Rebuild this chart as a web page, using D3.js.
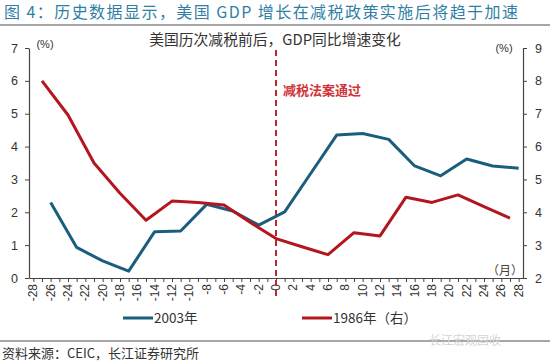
<!DOCTYPE html>
<html>
<head>
<meta charset="utf-8">
<script src="https://cdn.jsdelivr.net/npm/d3@7"></script>
<style>
  body { margin: 0; background: #fff; }
  svg { display: block; }
  text { font-family: "Liberation Sans", "Noto Sans CJK SC", sans-serif; }
  .cjk { font-family: "Noto Sans CJK SC", "Liberation Sans", sans-serif; }
</style>
</head>
<body>
<svg id="chart" width="550" height="363"></svg>
<script>
// quarterly GDP yoy, months relative to tax cut
var months2003 = [-26, -23, -20, -17, -14, -11, -8, -5, -2, 1, 4, 7, 10, 13, 16, 19, 22, 25, 28]
var gdp2003 = [2.3, 0.93, 0.52, 0.21, 1.41, 1.43, 2.24, 2.04, 1.61, 2.01, 3.18, 4.35, 4.4, 4.22, 3.41, 3.11, 3.62, 3.41, 3.34]
var months1986 = [-27, -24, -21, -18, -15, -12, -9, -6, -3, 0, 3, 6, 9, 12, 15, 18, 21, 24, 27]
var gdp1986 = [8.0, 6.96, 5.5, 4.58, 3.76, 4.34, 4.3, 4.22, 3.7, 3.2, 2.95, 2.71, 3.38, 3.28, 4.46, 4.3, 4.53, 4.17, 3.82]
var xTicks = d3.range(-28, 29, 2)
var leftTicks = [0, 1, 2, 3, 4, 5, 6, 7]
var rightTicks = [2, 3, 4, 5, 6, 7, 8, 9]

var blue = '#1b5d7e'
var red = '#b3161f'

var svg = d3.select('#chart')

var x = d3.scaleLinear().domain([-28.5, 28.5]).range([29, 523])
var yL = d3.scaleLinear().domain([0, 7]).range([278, 48])
var yR = d3.scaleLinear().domain([2, 9]).range([278, 48])

// header
svg.append('text').attr('class', 'cjk')
  .attr('x', 4).attr('y', 18)
  .attr('font-size', 16).attr('fill', '#2f7fa5')
  .attr('textLength', 514).attr('lengthAdjust', 'spacing')
  .text('图 4：历史数据显示，美国 GDP 增长在减税政策实施后将趋于加速')
svg.append('line').attr('x1', 0).attr('x2', 550).attr('y1', 25).attr('y2', 25)
  .attr('stroke', '#8a8a8a').attr('stroke-width', 1.5)

svg.append('text').attr('class', 'cjk')
  .attr('x', 275).attr('y', 45).attr('text-anchor', 'middle')
  .attr('font-size', 14.8).attr('fill', '#333')
  .text('美国历次减税前后，GDP同比增速变化')

svg.append('text').attr('x', 45).attr('y', 48).attr('text-anchor', 'middle')
  .attr('font-size', 11).attr('fill', '#333').text('(%)')
svg.append('text').attr('x', 504).attr('y', 52).attr('text-anchor', 'middle')
  .attr('font-size', 11).attr('fill', '#333').text('(%)')

// axes
var axisColor = '#444'
var gx = svg.append('g').attr('transform', 'translate(0,278)')
  .call(d3.axisBottom(x).tickValues(d3.range(-28, 29, 1)).tickSize(4).tickSizeOuter(0).tickFormat(''))
gx.select('.domain').attr('stroke', axisColor).attr('stroke-width', 1.2)
gx.selectAll('.tick line').attr('stroke', axisColor)

svg.append('g').selectAll('text').data(xTicks).enter().append('text')
  .attr('transform', function (d) { return 'translate(' + (x(d) + 4) + ',284) rotate(-90)' })
  .attr('text-anchor', 'end')
  .attr('font-size', 12).attr('fill', '#333')
  .text(function (d) { return d })

var gl = svg.append('g').attr('transform', 'translate(29,0)')
  .call(d3.axisLeft(yL).tickValues(leftTicks).tickFormat(d3.format('d')).tickSize(4).tickSizeOuter(0).tickPadding(7))
gl.select('.domain').attr('stroke', axisColor).attr('stroke-width', 1.2)
gl.selectAll('.tick line').attr('stroke', axisColor)
gl.selectAll('.tick text').attr('font-size', 12.5).attr('fill', '#333').attr('font-family', 'Liberation Sans')

var gr = svg.append('g').attr('transform', 'translate(523,0)')
  .call(d3.axisRight(yR).tickValues(rightTicks).tickFormat(d3.format('d')).tickSize(4).tickSizeOuter(0).tickPadding(8))
gr.select('.domain').attr('stroke', axisColor).attr('stroke-width', 1.2)
gr.selectAll('.tick line').attr('stroke', axisColor)
gr.selectAll('.tick text').attr('font-size', 12.5).attr('fill', '#333').attr('font-family', 'Liberation Sans')

svg.append('text').attr('class', 'cjk')
  .attr('x', 505).attr('y', 275).attr('text-anchor', 'middle')
  .attr('font-size', 12).attr('fill', '#444').text('（月）')

// tax bill marker
svg.append('line')
  .attr('x1', x(0)).attr('x2', x(0)).attr('y1', 50).attr('y2', 296)
  .attr('stroke', '#c0272d').attr('stroke-width', 2).attr('stroke-dasharray', '6,4')
svg.append('text').attr('class', 'cjk')
  .attr('x', 283).attr('y', 95)
  .attr('font-size', 13).attr('font-weight', 'bold').attr('fill', '#d0353a')
  .text('减税法案通过')

// series
var line2003 = d3.line()
  .x(function (d, i) { return x(months2003[i]) })
  .y(function (d) { return yL(d) })
var line1986 = d3.line()
  .x(function (d, i) { return x(months1986[i]) })
  .y(function (d) { return yR(d) })

svg.append('path').datum(gdp2003).attr('d', line2003)
  .attr('fill', 'none').attr('stroke', blue).attr('stroke-width', 3).attr('stroke-linejoin', 'round')
svg.append('path').datum(gdp1986).attr('d', line1986)
  .attr('fill', 'none').attr('stroke', red).attr('stroke-width', 3).attr('stroke-linejoin', 'round')

// legend
var legend = [{name: '2003年', color: blue, x: 123}, {name: '1986年（右）', color: red, x: 302}]
var lg = svg.append('g').selectAll('g').data(legend).enter().append('g')
  .attr('transform', function (d) { return 'translate(' + d.x + ',318)' })
lg.append('line').attr('x1', 0).attr('x2', 30)
  .attr('stroke', function (d) { return d.color }).attr('stroke-width', 3)
lg.append('text').attr('class', 'cjk').attr('x', 31).attr('y', 5)
  .attr('font-size', 13.5).attr('fill', '#333')
  .text(function (d) { return d.name })

// footer
svg.append('line').attr('x1', 0).attr('x2', 550).attr('y1', 341).attr('y2', 341)
  .attr('stroke', '#8a8a8a').attr('stroke-width', 1.5)
svg.append('text').attr('class', 'cjk')
  .attr('x', 465).attr('y', 345).attr('text-anchor', 'middle')
  .attr('font-size', 12).attr('fill', '#d6d6d6')
  .text('长江宏观固收')
svg.append('text').attr('class', 'cjk')
  .attr('x', 2).attr('y', 358)
  .attr('font-size', 13).attr('fill', '#333')
  .text('资料来源：CEIC，长江证券研究所')
</script>
</body>
</html>
